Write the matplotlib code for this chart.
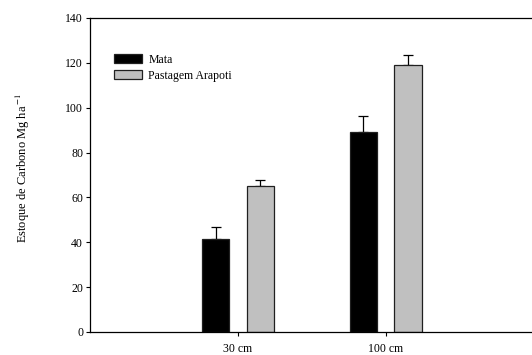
import matplotlib.pyplot as plt
import numpy as np

plt.rcParams["font.family"] = ["Liberation Serif", "DejaVu Serif"]
plt.rcParams["mathtext.fontset"] = "stix"

CATEGORIES = ["30 cm", "100 cm"]
SERIES_NAMES = ["Mata", "Pastagem Arapoti"]
MATA_VALUES = [41.6, 89.0]
MATA_ERRORS = [5.3, 7.3]
PASTAGEM_VALUES = [65.0, 119.0]
PASTAGEM_ERRORS = [2.9, 4.6]
Y_TICKS = [0, 20, 40, 60, 80, 100, 120, 140]

BAR_WIDTH = 0.183
OFFSET = 0.151
FONT_SIZE = 8.5


def main() -> None:
    """Draw grouped bar chart of carbon stock."""

    fig = plt.figure(figsize=(5.32, 3.55), dpi=100)
    ax = fig.add_axes([90 / 532, 23 / 355, 1 - 90 / 532, 314 / 355])

    x = np.arange(len(CATEGORIES))

    for values, errors, color, name, sign in [
        (MATA_VALUES, MATA_ERRORS, "black", SERIES_NAMES[0], -1),
        (PASTAGEM_VALUES, PASTAGEM_ERRORS, "#c0c0c0", SERIES_NAMES[1], 1),
    ]:
        ax.bar(
            x + sign * OFFSET,
            values,
            width=BAR_WIDTH,
            color=color,
            edgecolor="#202020",
            linewidth=0.9,
            label=name,
            zorder=2,
        )
        ax.errorbar(
            x + sign * OFFSET,
            values,
            yerr=[np.zeros(len(errors)), errors],
            fmt="none",
            ecolor="black",
            elinewidth=0.9,
            capsize=3.3,
            capthick=0.9,
            zorder=1,
        )

    ax.set_xlim(-1.0, 1.99)
    ax.set_ylim(0, 140)
    ax.set_yticks(Y_TICKS)
    ax.set_xticks(x)
    ax.set_xticklabels(CATEGORIES)

    ax.spines["right"].set_visible(False)
    for side in ["left", "bottom", "top"]:
        ax.spines[side].set_linewidth(0.9)

    ax.tick_params(
        axis="both",
        direction="out",
        length=3,
        width=0.8,
        labelsize=FONT_SIZE,
    )
    ax.tick_params(axis="y", pad=2)
    ax.tick_params(axis="x", pad=5)

    ax.set_ylabel(
        "Estoque de Carbono Mg ha$^{\\,\\mathrm{-1}}$",
        fontsize=9,
    )
    ax.yaxis.set_label_coords(-0.132, 0.52)

    ax.legend(
        loc="upper left",
        bbox_to_anchor=(0.04, 0.905),
        frameon=False,
        fontsize=FONT_SIZE,
        handlelength=2.4,
        handleheight=0.75,
        handletextpad=0.55,
        labelspacing=0.35,
        borderpad=0,
    )

    fig.savefig("out.png", dpi=100)
    plt.close(fig)


if __name__ == "__main__":
    main()
